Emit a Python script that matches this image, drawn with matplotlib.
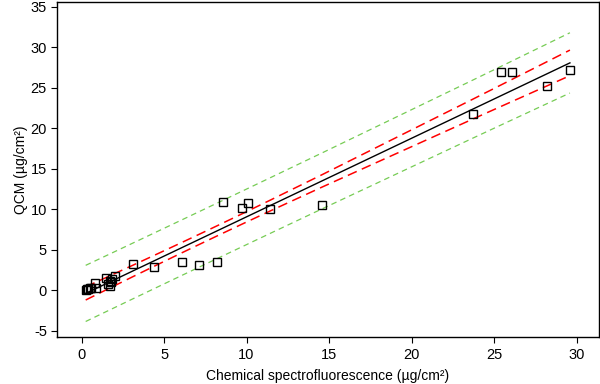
import numpy as np
import matplotlib
matplotlib.use("Agg")
import matplotlib.pyplot as plt

plt.rcParams['font.family'] = ['Liberation Sans', 'DejaVu Sans']
plt.rcParams['lines.scale_dashes'] = False
plt.rcParams['axes.unicode_minus'] = False

# measured data (Chemical spectrofluorescence vs QCM), µg/cm²
chem = np.array([0.25, 0.3, 0.4, 0.5, 0.55, 0.8, 0.9, 1.5, 1.6, 1.7, 1.75, 1.8, 1.85, 2.05,
                 3.1, 4.4, 6.1, 7.1, 8.2, 8.6, 9.7, 10.1, 11.4, 14.6,
                 23.7, 25.4, 26.1, 28.2, 29.6])
qcm = np.array([0.1, 0.15, 0.2, 0.3, 0.25, 0.9, 0.3, 1.5, 0.8, 1.2, 0.6, 1.0, 1.4, 1.8,
                3.3, 2.95, 3.55, 3.1, 3.55, 10.9, 10.2, 10.8, 10.0, 10.5,
                21.8, 27.0, 27.0, 25.3, 27.2])

xticks = [0, 5, 10, 15, 20, 25, 30]
yticks = [-5, 0, 5, 10, 15, 20, 25, 30, 35]

# ordinary least squares fit with confidence / prediction bands
n = len(chem)
slope, intercept = np.polyfit(chem, qcm, 1)
resid = qcm - (intercept + slope * chem)
s = np.sqrt(np.sum(resid ** 2) / (n - 2))
xs = np.sort(chem)
fit = intercept + slope * xs
sxx = np.sum((chem - chem.mean()) ** 2)
tval = 2.052
se_mean = s * np.sqrt(1 / n + (xs - chem.mean()) ** 2 / sxx)
se_pred = s * np.sqrt(1 + 1 / n + (xs - chem.mean()) ** 2 / sxx)

fig = plt.figure(figsize=(6, 3.84), dpi=100)
ax = fig.add_axes([0.0955, 0.1216, 0.9025, 0.874])

ax.plot(xs, fit + tval * se_pred, color='#77cc55', lw=0.9, dashes=(4, 3))
ax.plot(xs, fit - tval * se_pred, color='#77cc55', lw=0.9, dashes=(4, 3))
ax.plot(xs, fit + tval * se_mean, color='#ff0000', lw=1.1, dashes=(7, 4))
ax.plot(xs, fit - tval * se_mean, color='#ff0000', lw=1.1, dashes=(7, 4))
ax.plot(xs, fit, color='black', lw=1.0)
ax.plot(chem, qcm, linestyle='none', marker='s', ms=6.0, mfc='none', mec='black', mew=1.0)

ax.set_xlim(-1.47, 31.35)
ax.set_ylim(-5.78, 35.65)
ax.set_xticks(xticks)
ax.set_yticks(yticks)
ax.tick_params(direction='out', length=4, width=0.8, labelsize=10.5, colors='black')
for sp in ax.spines.values():
    sp.set_linewidth(1.0)
ax.set_xlabel('Chemical spectrofluorescence (µg/cm²)', fontsize=10, labelpad=5)
ax.set_ylabel('QCM (µg/cm²)', fontsize=10, labelpad=2)

fig.savefig('out.png', dpi=100)
